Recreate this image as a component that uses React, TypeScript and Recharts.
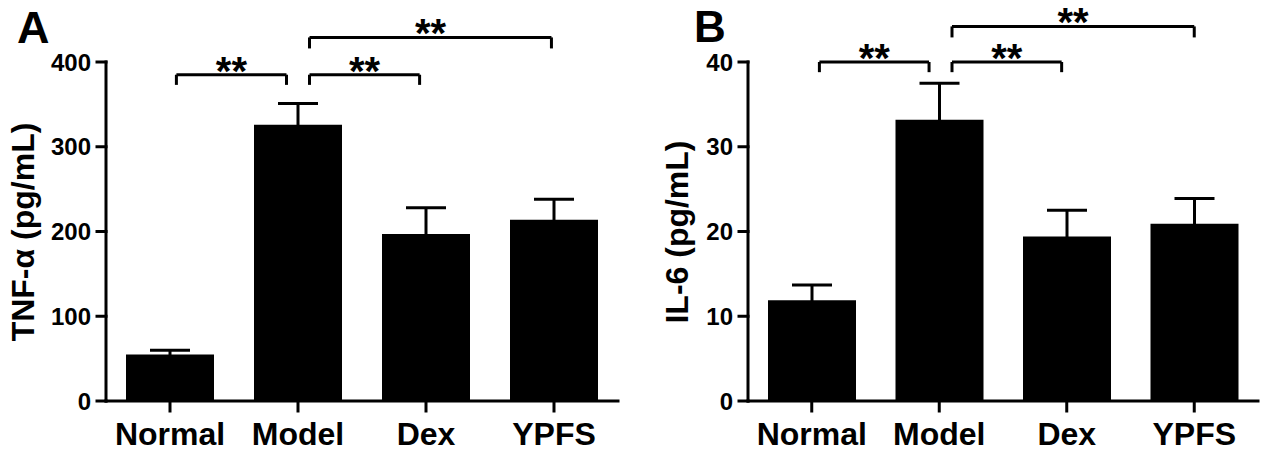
import {
  BarChart,
  Bar,
  XAxis,
  YAxis,
  ErrorBar,
  ReferenceLine,
} from 'recharts';

const categories = ['Normal', 'Model', 'Dex', 'YPFS'];

// panel A: TNF-α
const tnfMean = [55, 326, 197, 214];
const tnfSem = [5, 25, 31, 24];
const tnfTicks = [0, 100, 200, 300, 400];
const tnfBrackets = [
  { from: 0.05, to: 0.91, y: 385, drop: 12 },
  { from: 1.09, to: 1.95, y: 385, drop: 12 },
  { from: 1.09, to: 2.98, y: 429, drop: 13 },
];

// panel B: IL-6
const il6Mean = [11.9, 33.2, 19.4, 20.9];
const il6Sem = [1.8, 4.3, 3.1, 3.0];
const il6Ticks = [0, 10, 20, 30, 40];
const il6Brackets = [
  { from: 0.06, to: 0.92, y: 40, drop: 1.2 },
  { from: 1.1, to: 1.96, y: 40, drop: 1.2 },
  { from: 1.1, to: 3.0, y: 44.2, drop: 1.3 },
];

const FONT = '"Liberation Sans", Arial, Helvetica, sans-serif';
const axisStroke = { stroke: '#000', strokeWidth: 3, strokeLinecap: 'square' as const };

interface Bracket {
  from: number;
  to: number;
  y: number;
  drop: number;
}

interface PanelProps {
  means: number[];
  sems: number[];
  ticks: number[];
  brackets: Bracket[];
  left: number;
  marginLeft: number;
}

function Panel({ means, sems, ticks, brackets, left, marginLeft }: PanelProps) {
  const data = categories.map((name, i) => ({ idx: i, name, mean: means[i], err: sems[i] }));
  const yMax = ticks[ticks.length - 1];

  return (
    <div style={{ position: 'absolute', left, top: 0 }}>
      <BarChart
        width={633}
        height={458}
        data={data}
        margin={{ top: 62, right: 15, bottom: 7, left: marginLeft }}
        style={{ fontFamily: FONT }}
      >
        <XAxis
          dataKey="idx"
          type="number"
          domain={[-0.5, 3.5]}
          ticks={[0, 1, 2, 3]}
          interval={0}
          allowDataOverflow
          tickFormatter={(v: number) => categories[v] ?? ''}
          tick={{ fontSize: 32, fontWeight: 700, fill: '#000', fontFamily: FONT }}
          axisLine={axisStroke}
          tickLine={axisStroke}
          tickSize={10}
          tickMargin={11}
          height={50}
        />
        <YAxis
          type="number"
          domain={[0, yMax]}
          ticks={ticks}
          interval={0}
          tick={{ fontSize: 24, fontWeight: 700, fill: '#000', fontFamily: FONT }}
          axisLine={axisStroke}
          tickLine={axisStroke}
          tickSize={9}
          tickMargin={6}
          width={100}
        />
        <Bar dataKey="mean" fill="#000" barSize={88} isAnimationActive={false}>
          <ErrorBar
            dataKey="err"
            direction="y"
            width={20}
            stroke="#000"
            strokeWidth={3}
            isAnimationActive={false}
          />
        </Bar>
        {brackets.map((b, i) => (
          <ReferenceLine
            key={`h${i}`}
            segment={[{ x: b.from, y: b.y }, { x: b.to, y: b.y }]}
            stroke="#000"
            strokeWidth={3}
            ifOverflow="visible"
            label={{
              value: '**',
              position: 'top',
              offset: -10,
              fill: '#000',
              fontSize: 40,
              fontWeight: 700,
              fontFamily: FONT,
            }}
          />
        ))}
        {brackets.map((b, i) => (
          <ReferenceLine
            key={`l${i}`}
            segment={[{ x: b.from, y: b.y }, { x: b.from, y: b.y - b.drop }]}
            stroke="#000"
            strokeWidth={3}
            ifOverflow="visible"
          />
        ))}
        {brackets.map((b, i) => (
          <ReferenceLine
            key={`r${i}`}
            segment={[{ x: b.to, y: b.y }, { x: b.to, y: b.y - b.drop }]}
            stroke="#000"
            strokeWidth={3}
            ifOverflow="visible"
          />
        ))}
      </BarChart>
    </div>
  );
}

export default function App() {
  return (
    <div style={{ position: 'absolute', left: 0, top: 0, width: 1267, height: 458, background: '#fff' }}>
      <Panel means={tnfMean} sems={tnfSem} ticks={tnfTicks} brackets={tnfBrackets} left={0} marginLeft={6} />
      <Panel means={il6Mean} sems={il6Sem} ticks={il6Ticks} brackets={il6Brackets} left={640} marginLeft={8} />
      <svg
        width={1267}
        height={458}
        style={{ position: 'absolute', left: 0, top: 0, pointerEvents: 'none' }}
        fontFamily={FONT}
        fontWeight={700}
        fill="#000"
      >
        <text x={17} y={43} fontSize={45}>A</text>
        <text x={694} y={42} fontSize={44}>B</text>
        <text x={34} y={232} fontSize={32} textAnchor="middle" transform="rotate(-90, 34, 232)">
          TNF-α (pg/mL)
        </text>
        <text x={688} y={232} fontSize={32} textAnchor="middle" transform="rotate(-90, 688, 232)">
          IL-6  (pg/mL)
        </text>
      </svg>
    </div>
  );
}
